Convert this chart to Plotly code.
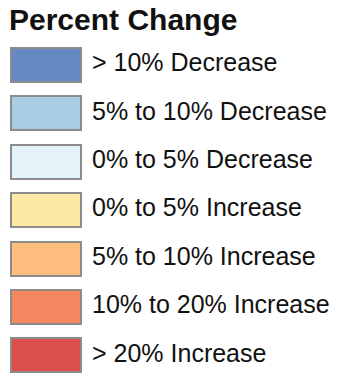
import plotly.graph_objects as go

title = "Percent Change"
labels = [
    "> 10% Decrease",
    "5% to 10% Decrease",
    "0% to 5% Decrease",
    "0% to 5% Increase",
    "5% to 10% Increase",
    "10% to 20% Increase",
    "> 20% Increase",
]
colors = ["#6589C3", "#A7CDE2", "#E4F3F9", "#FEE8A6", "#FDBE7E", "#F4875F", "#DD4F4C"]
rows = list(range(len(labels)))

W, H = 347, 374
row_px = 48.4
first_center = 65.0
y_top = -first_center / row_px
y_bot = (H - first_center) / row_px

fig = go.Figure()
fig.add_trace(go.Bar(
    y=rows, x=[70] * len(rows), base=[10.5] * len(rows), orientation="h",
    width=34 / row_px,
    marker=dict(color=colors, line=dict(color="#8C8C8C", width=2)),
    hoverinfo="skip", showlegend=False,
))
fig.add_trace(go.Scatter(
    y=rows, x=[92] * len(rows), mode="text", text=labels,
    textposition="middle right",
    textfont=dict(family="Liberation Sans, Arial, sans-serif", size=25, color="#111111"),
    hoverinfo="skip", showlegend=False,
))
fig.add_annotation(
    x=7, y=(19 - first_center) / row_px, xref="x", yref="y",
    text="<b>" + title + "</b>", showarrow=False,
    xanchor="left", yanchor="middle",
    font=dict(family="Liberation Sans, Arial, sans-serif", size=30, color="#111111"),
)
fig.update_layout(
    width=W, height=H, margin=dict(l=0, r=0, t=0, b=0),
    paper_bgcolor="white", plot_bgcolor="white",
    xaxis=dict(range=[0, W], visible=False, fixedrange=True),
    yaxis=dict(range=[y_bot, y_top], visible=False, fixedrange=True),
    bargap=0,
)
fig.write_html(
    "out.html",
    config={"displayModeBar": False},
    post_script="document.body.style.margin='0';document.body.style.overflow='hidden';",
)
